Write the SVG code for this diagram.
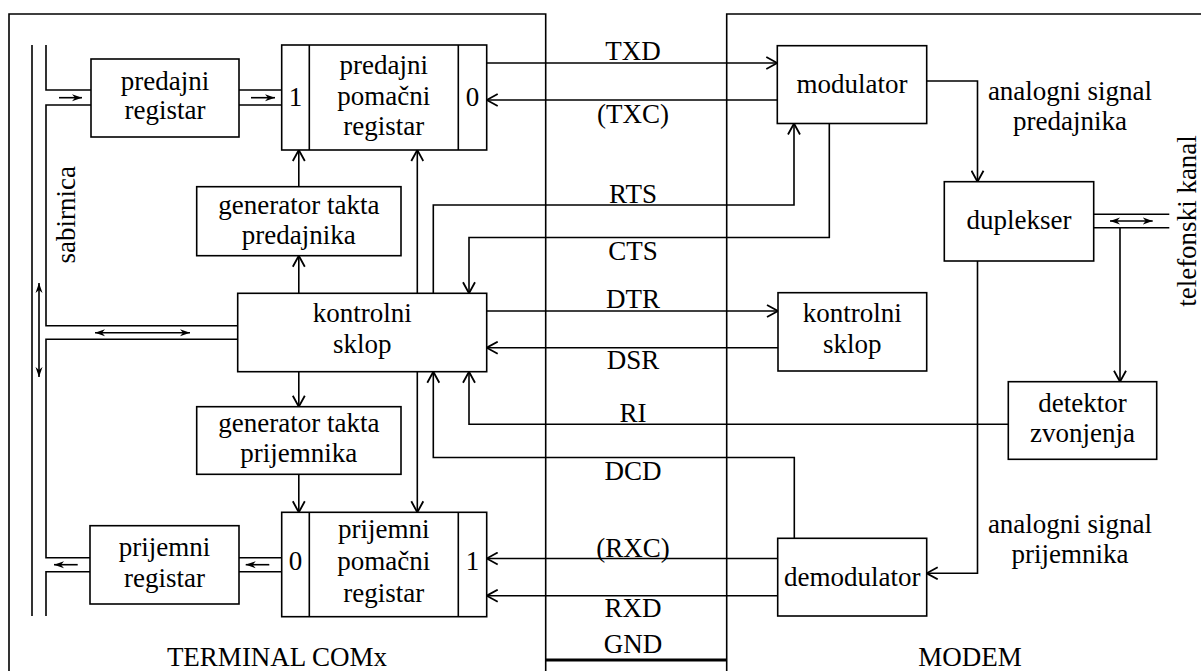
<svg xmlns="http://www.w3.org/2000/svg" width="1201" height="671" viewBox="0 0 1201 671">
<style>
.ln{fill:none;stroke:#000;stroke-width:1.6}
.bx{fill:#fff;stroke:#000;stroke-width:1.6}
.t{font-family:"Liberation Serif","Times New Roman",serif;font-size:27px;text-anchor:middle;fill:#000}
.a{marker-end:url(#ar)}
.s{marker-end:url(#sm)}
.d{marker-start:url(#sm);marker-end:url(#sm)}
</style>
<defs>
<marker id="ar" viewBox="0 0 14 14" refX="12.5" refY="7" markerWidth="14" markerHeight="14" orient="auto" markerUnits="userSpaceOnUse"><path d="M1.5,1 L12.5,7 L1.5,13" fill="none" stroke="#000" stroke-width="1.8"/></marker>
<marker id="sm" viewBox="0 0 10 8" refX="10" refY="4" markerWidth="10" markerHeight="8" orient="auto-start-reverse" markerUnits="userSpaceOnUse"><path d="M0,0.5 L10,4 L0,7.5 L3,4 Z" fill="#000"/></marker>
</defs>
<rect width="1201" height="671" fill="#fff"/>
<g id="frames">
<path class="ln" d="M9,671 V14 H545.7 V671"/>
<path class="ln" d="M726.7,671 V14 H1201"/>
<text class="t" x="277" y="666">TERMINAL COMx</text>
<text class="t" x="970" y="666">MODEM</text>
<text class="t" transform="translate(75,214.7) rotate(-90)">sabirnica</text>
<text class="t" transform="translate(1196,221) rotate(-90)">telefonski kanal</text>
<text class="t" x="1070" y="100">analogni signal</text>
<text class="t" x="1070" y="130">predajnika</text>
<text class="t" x="1070" y="533">analogni signal</text>
<text class="t" x="1070" y="563">prijemnika</text>
</g>
<g id="connectors">
<path class="ln" d="M32,45 V616"/>
<path class="ln" d="M46,45 V90 H91 M91,105 H46 V325.7 H237.7 M237.7,339.3 H46 V557.7 H90 M90,571.7 H46 V616"/>
<path class="ln" d="M239,90 H281.7 M239,105 H281.7 M239,557.7 H281.7 M239,571.7 H281.7"/>
<path class="ln s" d="M59,97.7 H82"/>
<path class="ln s" d="M251,97.7 H275"/>
<path class="ln s" d="M77.7,564.7 H54"/>
<path class="ln s" d="M269.3,564.7 H245.7"/>
<path class="ln d" d="M95,332.7 H190"/>
<path class="ln d" d="M39,283 V377"/>
<path class="ln d" d="M1110,221 H1152.7"/>
<path class="ln a" d="M486.7,63 H777.3"/>
<path class="ln a" d="M777.3,100 H486.7"/>
<path class="ln a" d="M298.8,186.7 V150"/>
<path class="ln a" d="M298.8,293.3 V255.7"/>
<path class="ln a" d="M298.8,371.7 V406.7"/>
<path class="ln a" d="M298.8,474.3 V512.3"/>
<path class="ln a" d="M417.3,293.3 V150"/>
<path class="ln a" d="M417.3,371.7 V512.3"/>
<path class="ln a" d="M433.3,293.3 V205 H794 V123.5"/>
<path class="ln a" d="M829.3,123.5 V237.5 H469 V293.3"/>
<path class="ln a" d="M486.7,311 H778"/>
<path class="ln a" d="M778,347.7 H486.7"/>
<path class="ln a" d="M1008.3,424.3 H469 V371.7"/>
<path class="ln a" d="M794.3,538.3 V457.5 H433.3 V371.7"/>
<path class="ln a" d="M777.7,558.5 H486.7"/>
<path class="ln a" d="M777.7,595.7 H486.7"/>
<path class="ln a" d="M926.7,81 H977.5 V181.7"/>
<path class="ln a" d="M977.5,261 V573.3 H926.7"/>
<path class="ln a" d="M1120,227.7 V381.7"/>
<path class="ln" d="M1093.7,214.3 H1169.3 M1093.7,227.7 H1169.3"/>
<path fill="none" stroke="#000" stroke-width="3" d="M546,660 H726.7"/>
<text class="t" x="633" y="60">TXD</text>
<text class="t" x="633" y="123">(TXC)</text>
<text class="t" x="633" y="203">RTS</text>
<text class="t" x="633" y="260">CTS</text>
<text class="t" x="633" y="308">DTR</text>
<text class="t" x="633" y="369">DSR</text>
<text class="t" x="633" y="422">RI</text>
<text class="t" x="633" y="480">DCD</text>
<text class="t" x="633" y="557">(RXC)</text>
<text class="t" x="633" y="617">RXD</text>
<text class="t" x="633" y="653">GND</text>
</g>
<g id="predajni-registar">
<rect class="bx" x="91" y="59" width="148" height="78"/>
<text class="t" x="165" y="90">predajni</text>
<text class="t" x="165" y="119">registar</text>
</g>
<g id="predajni-pomacni-registar">
<rect class="bx" x="281.7" y="45" width="205" height="105"/>
<path class="ln" d="M309.3,45 V150 M458.3,45 V150"/>
<text class="t" x="295.5" y="106">1</text>
<text class="t" x="383.8" y="74">predajni</text>
<text class="t" x="383.8" y="105">pomačni</text>
<text class="t" x="383.8" y="135">registar</text>
<text class="t" x="472.5" y="106">0</text>
</g>
<g id="generator-takta-predajnika">
<rect class="bx" x="196.7" y="186.7" width="204.3" height="69"/>
<text class="t" x="298.8" y="214">generator takta</text>
<text class="t" x="298.8" y="244">predajnika</text>
</g>
<g id="kontrolni-sklop-terminal">
<rect class="bx" x="237.7" y="293.3" width="249" height="78.4"/>
<text class="t" x="362.2" y="322">kontrolni</text>
<text class="t" x="362.2" y="353">sklop</text>
</g>
<g id="generator-takta-prijemnika">
<rect class="bx" x="196.7" y="406.7" width="204.3" height="67.6"/>
<text class="t" x="298.8" y="432">generator takta</text>
<text class="t" x="298.8" y="462">prijemnika</text>
</g>
<g id="prijemni-pomacni-registar">
<rect class="bx" x="281.7" y="512.3" width="205" height="104.4"/>
<path class="ln" d="M309.3,512.3 V616.7 M458.3,512.3 V616.7"/>
<text class="t" x="295.5" y="570">0</text>
<text class="t" x="383.8" y="538">prijemni</text>
<text class="t" x="383.8" y="570">pomačni</text>
<text class="t" x="383.8" y="602">registar</text>
<text class="t" x="472.5" y="570">1</text>
</g>
<g id="prijemni-registar">
<rect class="bx" x="90" y="525.7" width="149" height="78.3"/>
<text class="t" x="164.5" y="556">prijemni</text>
<text class="t" x="164.5" y="587">registar</text>
</g>
<g id="modulator">
<rect class="bx" x="777.3" y="45.7" width="149.4" height="77.8"/>
<text class="t" x="852" y="93">modulator</text>
</g>
<g id="duplekser">
<rect class="bx" x="944.3" y="181.7" width="149.4" height="79.3"/>
<text class="t" x="1019" y="229">duplekser</text>
</g>
<g id="kontrolni-sklop-modem">
<rect class="bx" x="778" y="292.7" width="148.7" height="78.3"/>
<text class="t" x="852.3" y="322">kontrolni</text>
<text class="t" x="852.3" y="353">sklop</text>
</g>
<g id="detektor-zvonjenja">
<rect class="bx" x="1008.3" y="381.7" width="148.4" height="77.6"/>
<text class="t" x="1082.5" y="412">detektor</text>
<text class="t" x="1082.5" y="442">zvonjenja</text>
</g>
<g id="demodulator">
<rect class="bx" x="777.7" y="538.3" width="149" height="77.7"/>
<text class="t" x="852.2" y="586">demodulator</text>
</g>
</svg>
